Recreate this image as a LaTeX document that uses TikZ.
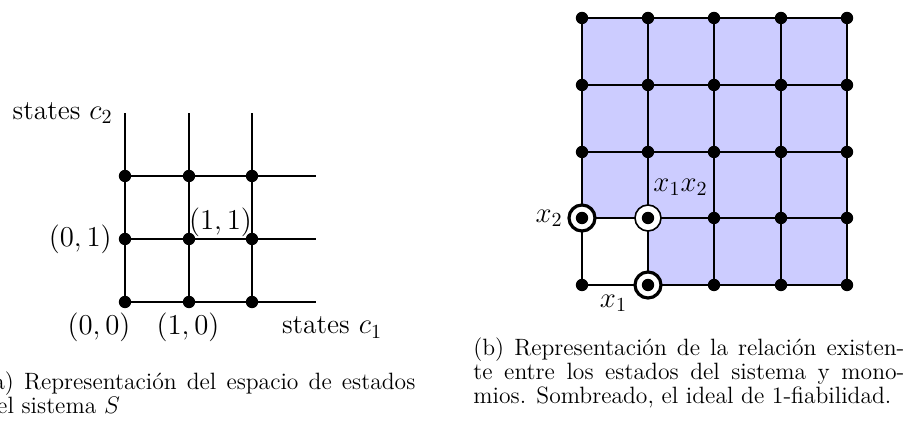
\documentclass[tikz,border=0pt]{standalone}
\begin{document}
\begin{tikzpicture}[x=0.5pt,y=-0.5pt,
  gridline/.style={line width=0.7pt},
  dot/.style={circle,fill=black,inner sep=0pt,minimum size=6.2pt},
  ring/.style={circle,draw=black,fill=white,inner sep=0pt,minimum size=13pt,line width=1.6pt},
  thinring/.style={ring,line width=0.8pt},
  lbl/.style={font=\fontsize{13.8}{16}\selectfont,inner sep=0pt},
  captext/.style={font=\fontsize{11.8}{12}\selectfont,inner sep=0pt,align=justify,anchor=base west,text width=215.5pt}]
\useasboundingbox (0,0) rectangle (906,421);

% ---------- left: state space ----------
\foreach \i/\x in {0/125,1/189,2/252}
  \foreach \j/\y in {0/302,1/239,2/176}
    \coordinate (L\i\j) at (\x,\y);
\foreach \i/\x in {0/125,1/189,2/252}
  \coordinate (Lt\i) at (\x,113);
\foreach \j/\y in {0/302,1/239,2/176}
  \coordinate (Le\j) at (316,\y);
\foreach \i in {0,1,2}
  \draw[gridline] (L\i0) -- (Lt\i);
\foreach \j in {0,1,2}
  \draw[gridline] (L0\j) -- (Le\j);
\foreach \i in {0,1,2}
  \foreach \j in {0,1,2}
    \node[dot] (dL\i\j) at (L\i\j) {};

\node[lbl,anchor=east] (lc2) at (113,113) {states $c_2$};
\node[lbl,anchor=base] (lc1) at (332,334) {states $c_1$};
\node[lbl,anchor=base] (l00) at (99,335) {$(0,0)$};
\node[lbl,anchor=base] (l10) at (188,335) {$(1,0)$};
\node[lbl,anchor=east] (l01) at (112,239) {$(0,1)$};
\node[lbl] (l11) at (220.5,222.5) {$(1,1)$};

% ---------- right: monomials ----------
\foreach \i/\x in {0/582,1/648,2/714,3/781,4/847}
  \foreach \j/\y in {0/285,1/218,2/152,3/85,4/18}
    \coordinate (R\i\j) at (\x,\y);
\fill[blue!20] (R04) -- (R44) -- (R40) -- (R10) -- (R11) -- (R01) -- cycle;
\foreach \i in {0,...,4}
  \draw[gridline] (R\i0) -- (R\i4);
\foreach \j in {0,...,4}
  \draw[gridline] (R0\j) -- (R4\j);
\foreach \i in {0,...,4}
  \foreach \j in {2,3,4}
    \node[dot] (dR\i\j) at (R\i\j) {};
\foreach \i in {2,3,4}
  \node[dot] (dR\i1) at (R\i1) {};
\foreach \i in {0,2,3,4}
  \node[dot] (dR\i0) at (R\i0) {};
\node[ring] (cR01) at (R01) {};
\node[thinring] (cR11) at (R11) {};
\node[ring] (cR10) at (R10) {};
\node[dot] (dR01) at (R01) {};
\node[dot] (dR11) at (R11) {};
\node[dot] (dR10) at (R10) {};

\node[lbl,anchor=east] (lx2) at (563,218) {$x_2$};
\node[lbl] (lx1x2) at (680.5,187) {$x_1x_2$};
\node[lbl] (lx1) at (613.5,303) {$x_1$};

% ---------- captions ----------
\node[captext] (capa) at (-16,390)
  {(a) Representación del espacio de estados\linebreak del sistema $S$};
\node[captext] (capb) at (473,356)
  {(b) Representación de la relación existen-\linebreak te entre los estados del sistema y mono-\linebreak mios. Sombreado, el ideal de 1-fiabilidad.};
\end{tikzpicture}
\end{document}
